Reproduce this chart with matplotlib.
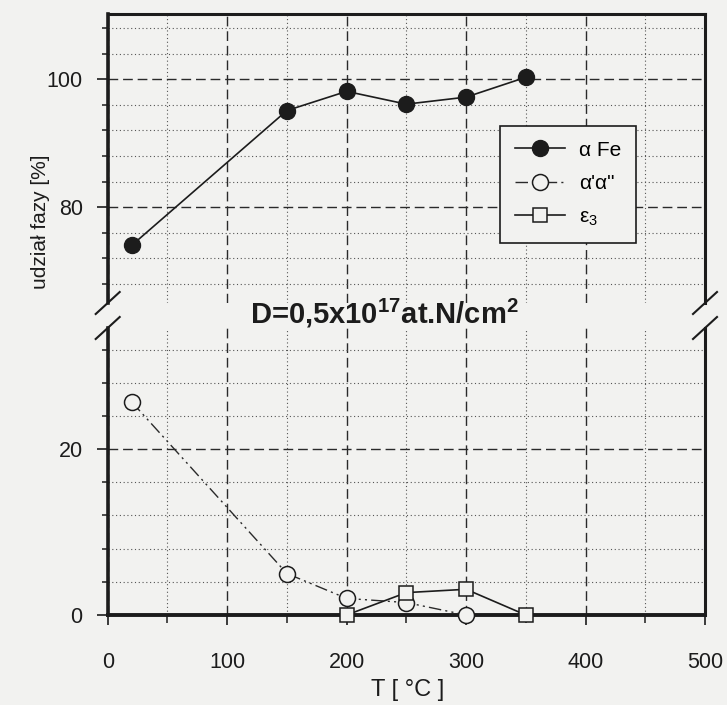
import matplotlib
matplotlib.use("Agg")
import matplotlib.pyplot as plt
from matplotlib.lines import Line2D
from matplotlib.ticker import FixedLocator, MultipleLocator

plt.rcParams['font.family'] = ['Liberation Sans', 'DejaVu Sans']
plt.rcParams['mathtext.fontset'] = 'custom'
plt.rcParams['mathtext.rm'] = 'Liberation Sans'
plt.rcParams['mathtext.it'] = 'Liberation Sans:italic'
plt.rcParams['mathtext.bf'] = 'Liberation Sans:bold'

# phase fractions vs annealing temperature
temp_fe = [20, 150, 200, 250, 300, 350]
alpha_fe = [74.0, 95.1, 98.1, 96.1, 97.2, 100.3]
temp_aa = [20, 150, 200, 250, 300]
alpha_aa = [25.7, 5.0, 2.0, 1.5, 0.0]
temp_eps = [200, 250, 300, 350]
eps3 = [0.0, 2.7, 3.1, 0.0]

x_major = [0, 100, 200, 300, 400, 500]
upper_major = [80, 100]
lower_major = [0, 20]

series_labels = ['\u03b1 Fe', '\u03b1\'\u03b1"', '\u03b5$_3$']
dose_text = r'D=0,5x10$^{\mathbf{17}}$at.N/cm$^{\mathbf{2}}$'

W, H = 727, 705
paper = '#f2f2f0'
ink = '#1c1c1c'


def fx(px):
    return px / W


def fy(px):
    return 1 - px / H


fig = plt.figure(figsize=(W / 100, H / 100), dpi=100, facecolor=paper)
left, right = fx(107.7), fx(705)
ax_top = fig.add_axes([left, fy(303), right - left, fy(14) - fy(303)])
ax_bot = fig.add_axes([left, fy(615), right - left, fy(328) - fy(615)])

ax_top.set_ylim(65, 110.2)
ax_bot.set_ylim(0, 34.6)

for ax in (ax_top, ax_bot):
    ax.set_facecolor(paper)
    ax.set_xlim(0, 500)
    ax.xaxis.set_major_locator(FixedLocator(x_major))
    ax.xaxis.set_minor_locator(MultipleLocator(50))
    ax.yaxis.set_minor_locator(MultipleLocator(4))
    ax.grid(which='major', linestyle=(0, (7, 3.5)), color='#2a2a2a', lw=1.0)
    ax.grid(which='minor', linestyle=(0, (1, 2.4)), color='#555555', lw=0.8)
    ax.set_axisbelow(True)
    ax.tick_params(axis='y', which='major', direction='out', length=8,
                   width=1.2, pad=10, labelsize=15.5, colors=ink)
    ax.tick_params(axis='y', which='minor', direction='out', length=4.5,
                   width=1.1, colors=ink)
    ax.spines['left'].set_linewidth(2.6)
    ax.spines['right'].set_linewidth(2.2)
    for s in ax.spines.values():
        s.set_color(ink)

ax_top.yaxis.set_major_locator(FixedLocator(upper_major))
ax_bot.yaxis.set_major_locator(FixedLocator(lower_major))

ax_top.spines['bottom'].set_visible(False)
ax_top.spines['top'].set_linewidth(2.2)
ax_top.tick_params(axis='x', which='both', length=0, labelbottom=False)

ax_bot.spines['top'].set_visible(False)
ax_bot.spines['bottom'].set_linewidth(2.8)
ax_bot.tick_params(axis='x', which='major', direction='out', length=7,
                   width=1.2, pad=20, labelsize=15.5, colors=ink)
ax_bot.tick_params(axis='x', which='minor', direction='out', length=6,
                   width=1.1, colors=ink)

h_fe, = ax_top.plot(temp_fe, alpha_fe, '-', color=ink, lw=1.2, marker='o',
                    ms=11.5, mfc=ink, mec=ink, clip_on=False, zorder=5)
h_aa, = ax_bot.plot(temp_aa, alpha_aa, color='#2a2a2a', lw=1.0,
                    linestyle=(0, (9, 3, 1.5, 3, 1.5, 3)), marker='o', ms=11.5,
                    mfc=paper, mec=ink, mew=1.1, clip_on=False, zorder=5)
h_eps, = ax_bot.plot(temp_eps, eps3, '-', color=ink, lw=1.2, marker='s',
                     ms=10, mfc=paper, mec=ink, mew=1.1, clip_on=False,
                     zorder=6)

ax_top.legend([h_fe, h_aa, h_eps], series_labels, loc='upper left',
              bbox_to_anchor=(fx(500), fy(126)), bbox_transform=fig.transFigure,
              borderaxespad=0, fancybox=False, framealpha=1, facecolor=paper,
              edgecolor=ink, fontsize=15, handlelength=2.4,
              handletextpad=0.7, labelspacing=0.7, borderpad=0.7)
ax_top.get_legend().get_frame().set_linewidth(1.2)

# axis break marks on both spines
for xs in (107.7, 705):
    for ys in (303, 328):
        fig.add_artist(Line2D([fx(xs - 12), fx(xs + 12)],
                              [fy(ys + 11), fy(ys - 11)],
                              transform=fig.transFigure, color=ink, lw=1.5))

fig.text(fx(384), fy(324), dose_text, ha='center', va='baseline',
         fontsize=21, fontweight='bold', color=ink)
fig.text(fx(40), fy(222), 'udzia\u0142 fazy [%]', rotation=90, ha='center',
         va='center', fontsize=15, color=ink)
fig.text(fx(408), fy(690), 'T [ \u00b0C ]', ha='center', va='center',
         fontsize=17, color=ink)

fig.savefig('out.png', dpi=100, facecolor=paper)
